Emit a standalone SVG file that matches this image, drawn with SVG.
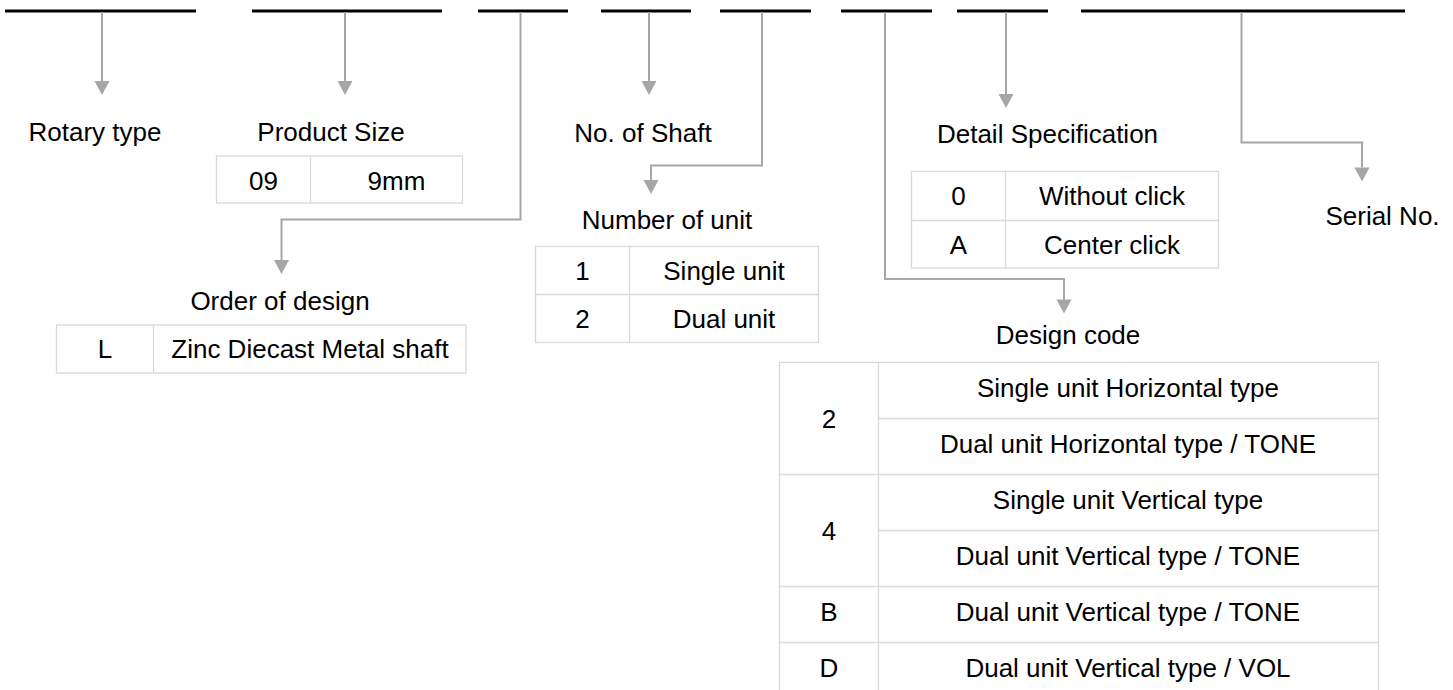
<svg xmlns="http://www.w3.org/2000/svg" width="1453" height="690" viewBox="0 0 1453 690">
<defs>
<style>
text{font-family:"Liberation Sans",Arial,Helvetica,sans-serif;font-size:26px;fill:#000;text-anchor:middle}
.bar{stroke:#000;stroke-width:3;fill:none}
.conn{stroke:#A6A6A6;stroke-width:2;fill:none;marker-end:url(#ah)}
.tb{stroke:#D9D9D9;stroke-width:1.3;fill:none}
</style>
<marker id="ah" markerUnits="userSpaceOnUse" markerWidth="16" markerHeight="16" refX="0" refY="7.5" orient="auto" overflow="visible">
<path d="M0,0 L14,7.5 L0,15 z" fill="#A6A6A6"/>
</marker>
</defs>
<rect width="1453" height="690" fill="#fff"/>
<g id="code-bars">
<line class="bar" x1="5" y1="11" x2="196" y2="11"/>
<line class="bar" x1="252" y1="11" x2="442" y2="11"/>
<line class="bar" x1="478" y1="11" x2="568" y2="11"/>
<line class="bar" x1="601" y1="11" x2="691" y2="11"/>
<line class="bar" x1="720" y1="11" x2="811" y2="11"/>
<line class="bar" x1="841" y1="11" x2="932" y2="11"/>
<line class="bar" x1="957" y1="11" x2="1048" y2="11"/>
<line class="bar" x1="1081" y1="11" x2="1405" y2="11"/>
</g>
<g id="connectors">
<path class="conn" d="M102,12 V81"/>
<path class="conn" d="M345,12 V81"/>
<path class="conn" d="M520.5,12 V219.5 H281.5 V260"/>
<path class="conn" d="M649,12 V81"/>
<path class="conn" d="M762,12 V165.5 H651 V180"/>
<path class="conn" d="M885,12 V279 H1064 V299.5"/>
<path class="conn" d="M1006,12 V94"/>
<path class="conn" d="M1241.5,12 V142.5 H1362 V167.5"/>
</g>
<g id="rotary-type">
<text x="95" y="141">Rotary type</text>
</g>
<g id="product-size">
<text x="331" y="141">Product Size</text>
<rect class="tb" x="216.5" y="156" width="246" height="47"/>
<line class="tb" x1="310.5" y1="156" x2="310.5" y2="203"/>
<text x="263.5" y="190">09</text>
<text x="396.5" y="190">9mm</text>
</g>
<g id="order-of-design">
<text x="280" y="310">Order of design</text>
<rect class="tb" x="56.5" y="325" width="409.5" height="48"/>
<line class="tb" x1="153.5" y1="325" x2="153.5" y2="373"/>
<text x="105" y="358">L</text>
<text x="310" y="358">Zinc Diecast Metal shaft</text>
</g>
<g id="no-of-shaft">
<text x="643" y="141.5">No. of Shaft</text>
</g>
<g id="number-of-unit">
<text x="667" y="229">Number of unit</text>
<rect class="tb" x="535.5" y="246.5" width="283" height="96"/>
<line class="tb" x1="535.5" y1="294.5" x2="818.5" y2="294.5"/>
<line class="tb" x1="629.5" y1="246.5" x2="629.5" y2="342.5"/>
<text x="582.5" y="280">1</text>
<text x="724" y="280">Single unit</text>
<text x="582.5" y="328">2</text>
<text x="724" y="328">Dual unit</text>
</g>
<g id="detail-specification">
<text x="1047.5" y="142.5">Detail Specification</text>
<rect class="tb" x="911.5" y="171.5" width="307" height="96.5"/>
<line class="tb" x1="911.5" y1="220.5" x2="1218.5" y2="220.5"/>
<line class="tb" x1="1005.5" y1="171.5" x2="1005.5" y2="268"/>
<text x="958.5" y="205">0</text>
<text x="1112" y="205">Without click</text>
<text x="958.5" y="253.5">A</text>
<text x="1112" y="253.5">Center click</text>
</g>
<g id="serial-no">
<text x="1382.5" y="225">Serial No.</text>
</g>
<g id="design-code">
<text x="1068" y="344">Design code</text>
<rect class="tb" x="779.5" y="362.5" width="599" height="336"/>
<line class="tb" x1="878.5" y1="362.5" x2="878.5" y2="698.5"/>
<line class="tb" x1="878.5" y1="418.5" x2="1378.5" y2="418.5"/>
<line class="tb" x1="779.5" y1="474.5" x2="1378.5" y2="474.5"/>
<line class="tb" x1="878.5" y1="530.5" x2="1378.5" y2="530.5"/>
<line class="tb" x1="779.5" y1="586.5" x2="1378.5" y2="586.5"/>
<line class="tb" x1="779.5" y1="642.5" x2="1378.5" y2="642.5"/>
<text x="829" y="427.5">2</text>
<text x="1128" y="397">Single unit Horizontal type</text>
<text x="1128" y="453">Dual unit Horizontal type / TONE</text>
<text x="829" y="539.5">4</text>
<text x="1128" y="509">Single unit Vertical type</text>
<text x="1128" y="565">Dual unit Vertical type / TONE</text>
<text x="829" y="621">B</text>
<text x="1128" y="621">Dual unit Vertical type / TONE</text>
<text x="829" y="677">D</text>
<text x="1128" y="677">Dual unit Vertical type / VOL</text>
</g>
</svg>
